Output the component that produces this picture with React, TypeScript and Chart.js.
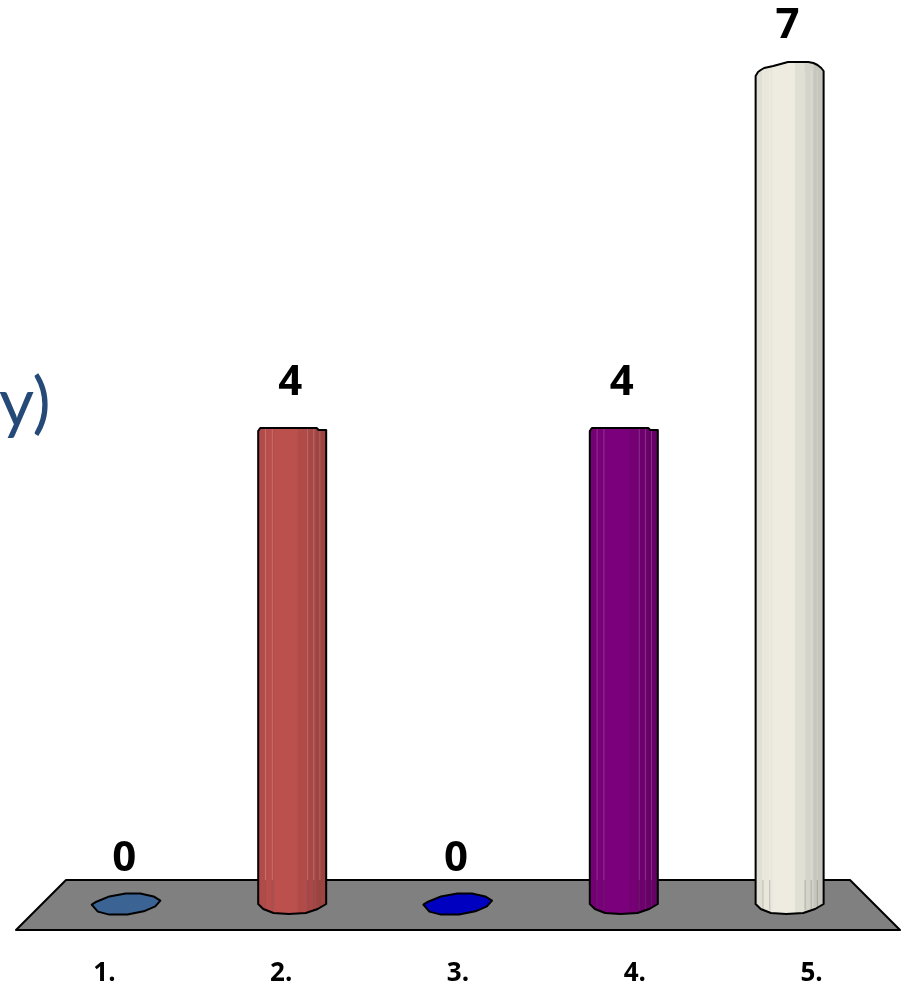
import React, { useEffect, useRef } from "react";
import { Chart, registerables } from "chart.js";

Chart.register(...registerables);

const categories = ["1.", "2.", "3.", "4.", "5."];
const values = [0, 4, 0, 4, 7];
const barColors = ["#3b6494", "#bb504d", "#0000c0", "#7b007b", "#eeece1"];

const PERSPECTIVE = 166 / 177;
const FLOOR = "#808080";
const shades = [
  [0, 0.1, 0.05], [0.1, 0.25, 0.02], [0.25, 0.58, 0], [0.58, 0.72, 0.05], [0.72, 0.85, 0.1], [0.85, 1, 0.16],
];
const highlights = [0.1, 0.2, 0.72, 0.81, 0.9];
const blob = [[-1.02, 0.7], [-0.88, -2.3], [-0.5, -7.6], [-0.02, -10.6], [0.41, -10.6], [0.8, -7.6], [1, -3.3], [0.85, 2.3], [0.51, 7.3], [0.03, 10.6], [-0.5, 10.6], [-0.84, 7.6]];
const bottomCurve = [[1, 0], [0.75, 5], [0.4, 9], [-0.1, 10], [-0.55, 9], [-0.85, 5], [-1, 0]];
const domeTop = [[-1, 5], [-0.93, 1], [-0.85, -1], [-0.75, -3], [-0.48, -5], [-0.05, -9], [0.55, -9], [0.7, -8], [0.82, -6], [0.93, -3], [1, 0]];
const flatTop = [[-1, 3], [-0.94, 0], [0.72, 0], [0.78, 2], [1, 2]];

const cylinderPlugin = {
  id: "cylinders",
  beforeDatasetsDraw(chart: any) {
    const { ctx, chartArea, scales } = chart;
    const y0 = scales.y.getPixelForValue(0);
    const floorBack = y0 - 24;
    const floorFront = y0 + 26;
    const l = chartArea.left;
    const r = chartArea.right;
    ctx.save();
    ctx.beginPath();
    ctx.moveTo(l + 50, floorBack);
    ctx.lineTo(r - 50, floorBack);
    ctx.lineTo(r, floorFront);
    ctx.lineTo(l, floorFront);
    ctx.closePath();
    ctx.fillStyle = FLOOR;
    ctx.fill();
    ctx.strokeStyle = "#000";
    ctx.lineWidth = 2;
    ctx.lineJoin = "round";
    ctx.stroke();

    const centre = (l + r) / 2;
    const meta = chart.getDatasetMeta(0);
    meta.data.forEach((el: any, i: number) => {
      const cx = centre + (el.x - centre) * PERSPECTIVE;
      const hw = el.width / 2;
      const color = barColors[i];
      ctx.beginPath();
      if (values[i] === 0) {
        blob.forEach(([a, b], k) => {
          const px = cx + a * hw;
          const py = y0 + b;
          k ? ctx.lineTo(px, py) : ctx.moveTo(px, py);
        });
        ctx.closePath();
        ctx.fillStyle = color;
        ctx.fill();
        ctx.stroke();
        return;
      }
      const top = values[i] === Math.max(...values) ? domeTop : flatTop;
      const outline = () => {
        ctx.beginPath();
        top.forEach(([a, b], k) => {
          const px = cx + a * hw;
          const py = el.y + b;
          k ? ctx.lineTo(px, py) : ctx.moveTo(px, py);
        });
        bottomCurve.forEach(([a, b]) => ctx.lineTo(cx + a * hw, y0 + b));
        ctx.closePath();
      };
      outline();
      ctx.fillStyle = color;
      ctx.fill();
      ctx.save();
      ctx.clip();
      shades.forEach(([a, b, alpha]) => {
        if (!alpha) return;
        ctx.fillStyle = `rgba(0,0,0,${alpha})`;
        ctx.fillRect(cx - hw + a * 2 * hw, el.y - 20, (b - a) * 2 * hw, y0 - el.y + 40);
      });
      highlights.forEach((a) => {
        const lx = cx - hw + a * 2 * hw;
        ctx.fillStyle = "rgba(255,255,255,0.2)";
        ctx.fillRect(lx, el.y, 1, floorBack - el.y);
        ctx.fillStyle = "rgba(90,90,90,0.3)";
        ctx.fillRect(lx, floorBack, 1, y0 + 6 - floorBack);
      });
      ctx.restore();
      outline();
      ctx.stroke();
    });

    ctx.font = "bold 42px 'Open Sans'";
    ctx.fillStyle = "#000";
    ctx.textAlign = "center";
    ctx.textBaseline = "alphabetic";
    meta.data.forEach((el: any, i: number) => {
      const cx = centre + (el.x - centre) * PERSPECTIVE;
      ctx.fillText(String(values[i]), cx - 2, el.y - 33);
    });
    ctx.restore();
  },
};

export default function App() {
  const ref = useRef<HTMLCanvasElement | null>(null);
  useEffect(() => {
    const chart = new Chart(ref.current as HTMLCanvasElement, {
      type: "bar",
      data: {
        labels: categories,
        datasets: [{ data: values, backgroundColor: "transparent", borderWidth: 0, barThickness: 68 }],
      },
      options: {
        animation: false,
        responsive: false,
        layout: { padding: { left: 16, right: 1, top: 71, bottom: 0 } },
        plugins: { legend: { display: false }, tooltip: { enabled: false } },
        scales: {
          x: {
            grid: { display: false },
            border: { display: false },
            afterFit: (s: any) => { s.height = 79; },
            ticks: { color: "#000", padding: 46, maxRotation: 0, font: { family: "'Open Sans'", weight: "bold", size: 26 } },
          },
          y: { display: false, min: 0, max: 7 },
        },
      },
      plugins: [cylinderPlugin],
    } as any);
    return () => chart.destroy();
  }, []);
  return (
    <div style={{ position: "absolute", left: 0, top: 0, width: 901, height: 983, overflow: "hidden", background: "#fff" }}>
      <div style={{ position: "absolute", left: -1, top: 365, fontFamily: "Lato", fontSize: 68, lineHeight: "70px", color: "#254a78" }}>y)</div>
      <canvas ref={ref} width={901} height={983} style={{ position: "absolute", left: 0, top: 0, display: "block" }} />
    </div>
  );
}
